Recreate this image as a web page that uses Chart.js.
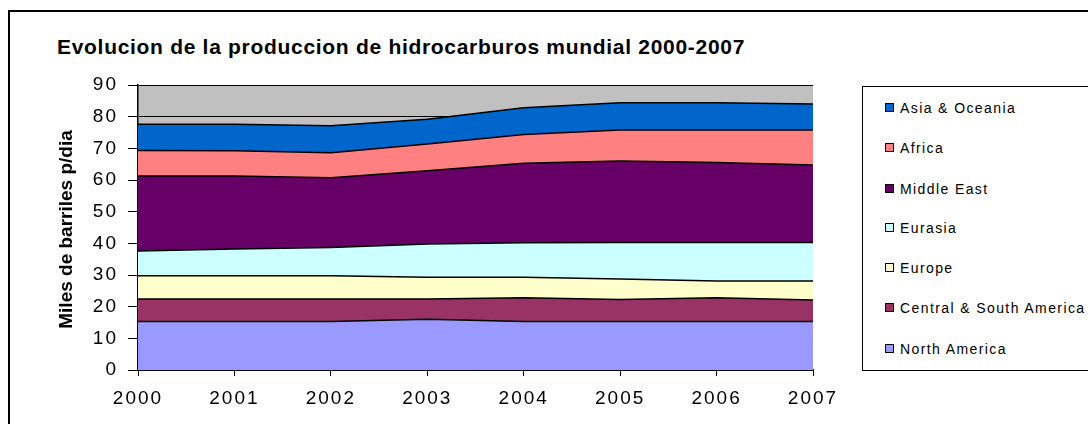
<!DOCTYPE html>
<html lang="es">
<head>
<meta charset="UTF-8">
<title>Evolucion de la produccion de hidrocarburos mundial</title>
<script src="https://cdn.jsdelivr.net/npm/chart.js@4.4.1/dist/chart.umd.min.js"></script>
<style>
  body { margin: 0; background: #fff; font-family: "Liberation Sans", Arial, sans-serif; }
  #frame { position: absolute; left: 8px; top: 10px; width: 1200px; height: 500px; border: 2px solid #000; box-sizing: border-box; }
  #title { position: absolute; left: 57px; top: 35px; font-size: 21px; font-weight: bold; letter-spacing: 0.7px; white-space: nowrap; }
  #wrap { position: absolute; left: 0; top: 0; width: 860px; height: 424px; }
  #legend { position: absolute; left: 862px; top: 86px; width: 300px; height: 285px; border: 1.5px solid #000; box-sizing: border-box; background: #fff; }
  .item { position: absolute; left: 22px; font-size: 14px; letter-spacing: 1.4px; white-space: nowrap; line-height: 16px; }
  .item span.box { display: inline-block; width: 7px; height: 7px; border: 1.5px solid #000; margin-right: 6px; vertical-align: 1px; }
</style>
</head>
<body>
<div id="frame"></div>
<div id="title">Evolucion de la produccion de hidrocarburos mundial 2000-2007</div>
<div id="wrap"><canvas id="chart"></canvas></div>
<div id="legend"></div>
<script>
var years = ['2000', '2001', '2002', '2003', '2004', '2005', '2006', '2007'];

var northAmerica = [15.3, 15.3, 15.3, 16.0, 15.3, 15.3, 15.3, 15.3];
var centralSouthAmerica = [7.1, 7.1, 7.1, 6.4, 7.5, 7.0, 7.5, 6.8];
var europe = [7.4, 7.4, 7.4, 6.9, 6.5, 6.4, 5.3, 6.0];
var eurasia = [7.8, 8.4, 8.9, 10.5, 10.9, 11.6, 12.2, 12.2];
var middleEast = [23.7, 23.1, 22.0, 23.1, 25.1, 25.7, 25.2, 24.4];
var africa = [8.0, 7.9, 7.9, 8.5, 9.1, 9.8, 10.3, 11.1];
var asiaOceania = [8.3, 8.4, 8.5, 7.8, 8.4, 8.6, 8.6, 8.2];

var yTicks = [0, 10, 20, 30, 40, 50, 60, 70, 80, 90];
var yTitle = 'Miles de barriles p/dia';

var series = [
  { label: 'North America', data: northAmerica, color: '#9999FF' },
  { label: 'Central & South America', data: centralSouthAmerica, color: '#993366' },
  { label: 'Europe', data: europe, color: '#FFFFCC' },
  { label: 'Eurasia', data: eurasia, color: '#CCFFFF' },
  { label: 'Middle East', data: middleEast, color: '#660066' },
  { label: 'Africa', data: africa, color: '#FF8080' },
  { label: 'Asia & Oceania', data: asiaOceania, color: '#0066CC' }
];

// gray plot area + wider tick lettering like the Excel original
var plotBg = {
  id: 'plotBg',
  beforeUpdate: function (chart) { chart.ctx.letterSpacing = '2px'; },
  beforeDraw: function (chart) {
    var a = chart.chartArea, ctx = chart.ctx;
    ctx.letterSpacing = '2px';
    ctx.save();
    ctx.fillStyle = '#C0C0C0';
    ctx.fillRect(a.left, a.top, a.right - a.left, a.bottom - a.top);
    ctx.restore();
  },
  afterDraw: function (chart) {
    var a = chart.chartArea, ctx = chart.ctx;
    ctx.save();
    ctx.letterSpacing = '0px';
    ctx.translate(67, (a.top + a.bottom) / 2 + 2);
    ctx.rotate(-Math.PI / 2);
    ctx.font = 'bold 19px "Liberation Sans"';
    ctx.fillStyle = '#000';
    ctx.textAlign = 'center';
    ctx.textBaseline = 'middle';
    ctx.fillText(yTitle, 0, 0);
    ctx.restore();
  }
};

var ctx = document.getElementById('chart').getContext('2d');
var chart = new Chart(ctx, {
  type: 'line',
  data: {
    labels: years,
    datasets: series.map(function (s, i) {
      return {
        label: s.label,
        data: s.data,
        backgroundColor: s.color,
        borderColor: '#000',
        borderWidth: 1.5,
        pointRadius: 0,
        tension: 0,
        fill: i === 0 ? 'origin' : '-1'
      };
    })
  },
  options: {
    responsive: true,
    maintainAspectRatio: false,
    animation: false,
    layout: { padding: { top: 85, right: 47, bottom: 0, left: 0 } },
    plugins: { legend: { display: false }, tooltip: { enabled: false } },
    scales: {
      x: {
        offset: false,
        grid: { drawOnChartArea: false, drawTicks: true, tickLength: 6, color: '#000' },
        border: { color: '#000', width: 1.5 },
        ticks: { color: '#000', font: { family: 'Liberation Sans', size: 19 }, padding: 11, maxRotation: 0 },
        afterFit: function (s) { s.height = 54; }
      },
      y: {
        stacked: true,
        min: 0,
        max: 90,
        afterBuildTicks: function (s) { s.ticks = yTicks.map(function (v) { return { value: v }; }); },
        grid: { color: '#000', lineWidth: 1, tickLength: 10 },
        border: { color: '#000', width: 1.5 },
        ticks: { color: '#000', font: { family: 'Liberation Sans', size: 19 }, padding: 10 },
        afterFit: function (s) { s.width = 138; }
      }
    }
  },
  plugins: [plotBg]
});

// legend, top series first
var legend = document.getElementById('legend');
var legendY = [21, 61, 102, 141, 181, 221, 262];
chart.data.datasets.slice().reverse().forEach(function (d, i) {
  var el = document.createElement('div');
  el.className = 'item';
  el.style.top = (legendY[i] - 8) + 'px';
  el.innerHTML = '<span class="box" style="background:' + d.backgroundColor + '"></span>';
  el.appendChild(document.createTextNode(d.label));
  legend.appendChild(el);
});
</script>
</body>
</html>
